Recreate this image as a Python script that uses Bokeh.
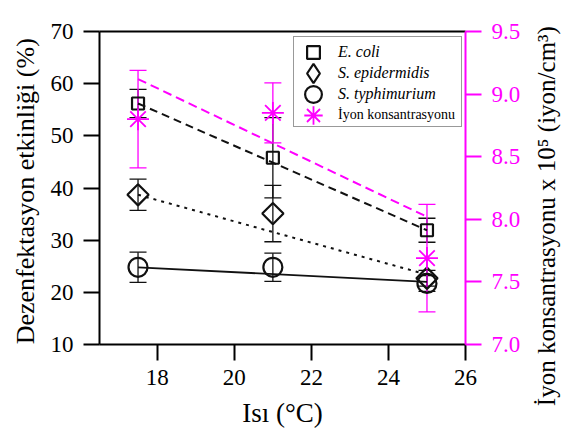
import numpy as np
from bokeh.plotting import figure
from bokeh.layouts import row
from bokeh.models import (Range1d, LinearAxis, FixedTicker, ColumnDataSource, Whisker,
                          TeeHead, Legend, LegendItem, PrintfTickFormatter, Title)
from bokeh.embed import file_html
from bokeh.resources import INLINE

# ---------------- data ----------------
temperature = [17.5, 21.0, 25.0]
e_coli = [56.2, 45.8, 31.9]
e_coli_err = [2.7, 7.7, 2.3]
s_epidermidis = [38.7, 35.1, 22.7]
s_epidermidis_err = [3.0, 5.4, 1.5]
s_typhimurium = [24.8, 24.8, 21.7]
s_typhimurium_err = [2.9, 2.7, 1.5]
ion_conc = [8.80, 8.85, 7.69]
ion_conc_err = [0.39, 0.24, 0.43]

trend_x = [17.5, 25.0]
e_coli_trend = [56.2, 31.9]
s_epidermidis_trend = [38.7, 23.4]
s_typhimurium_trend = [24.8, 22.0]
ion_trend = [9.12, 8.02]

x_ticks = [18, 20, 22, 24, 26]
y_ticks = [10, 20, 30, 40, 50, 60, 70]
ion_ticks = [7.0, 7.5, 8.0, 8.5, 9.0, 9.5]

series_names = ["E. coli", "S. epidermidis", "S. typhimurium", "İyon konsantrasyonu"]
x_label = "Isı (°C)"
y_label = "Dezenfektasyon etkinliği  (%)"
y2_label = "İyon konsantrasyonu x 10⁵ (iyon/cm³)"

# ---------------- styling ----------------
FONT = "Liberation Serif"
MAG = "#ff00ff"
BLK = "#111111"

p = figure(width=530, height=437, output_backend="svg", toolbar_location=None,
           x_range=Range1d(16.5, 26), y_range=Range1d(10, 70),
           min_border_left=99, min_border_right=65, min_border_top=31, min_border_bottom=93,
           background_fill_color="white", border_fill_color="white", outline_line_color=None)
p.grid.visible = False
p.extra_y_ranges = {"ion": Range1d(7.0, 9.5)}

def style_axis(ax, color="black"):
    ax.axis_line_color = color
    ax.axis_line_width = 2
    ax.major_tick_line_color = color
    ax.major_tick_line_width = 2
    ax.major_tick_out = 16
    ax.major_tick_in = 0
    ax.minor_tick_line_color = None
    ax.major_label_text_font = FONT
    ax.major_label_text_font_size = "23px"
    ax.major_label_text_color = color
    ax.axis_label_text_font = FONT
    ax.axis_label_text_font_style = "normal"
    ax.axis_label_text_color = "black"

xa = p.xaxis[0]
style_axis(xa)
xa.ticker = FixedTicker(ticks=x_ticks)
xa.axis_label = x_label
xa.axis_label_text_font_size = "27px"
xa.major_label_standoff = 9
xa.axis_label_standoff = 10

ya = p.yaxis[0]
style_axis(ya)
ya.ticker = FixedTicker(ticks=y_ticks)
ya.axis_label = y_label
ya.axis_label_text_font_size = "26px"
ya.major_label_standoff = 10
ya.axis_label_standoff = 8

ra = LinearAxis(y_range_name="ion", ticker=FixedTicker(ticks=ion_ticks),
                formatter=PrintfTickFormatter(format="%.1f"))
style_axis(ra, MAG)
ra.major_label_standoff = 10
p.add_layout(ra, "right")

ta = LinearAxis(ticker=FixedTicker(ticks=[]), axis_line_width=2, axis_line_color="black",
                major_tick_line_color=None, minor_tick_line_color=None,
                major_label_text_font_size="0px")
p.add_layout(ta, "above")

# ---------------- trend lines ----------------
p.line(trend_x, e_coli_trend, line_color=BLK, line_width=2, line_dash="8 5")
p.line(trend_x, s_epidermidis_trend, line_color=BLK, line_width=2, line_dash="3 5")
p.line(trend_x, s_typhimurium_trend, line_color=BLK, line_width=1.8)
p.line(trend_x, ion_trend, line_color=MAG, line_width=2, line_dash="9 5", y_range_name="ion")

# ---------------- error bars ----------------
def add_whisker(vals, errs, color, range_name="default"):
    v = np.array(vals, dtype=float)
    e = np.array(errs, dtype=float)
    src = ColumnDataSource(dict(x=temperature, upper=v + e, lower=v - e))
    w = Whisker(source=src, base="x", upper="upper", lower="lower", dimension="height",
                line_color=color, line_width=1.3, y_range_name=range_name,
                upper_head=TeeHead(size=17, line_color=color, line_width=1.3),
                lower_head=TeeHead(size=17, line_color=color, line_width=1.3))
    p.add_layout(w)

add_whisker(e_coli, e_coli_err, BLK)
add_whisker(s_epidermidis, s_epidermidis_err, BLK)
add_whisker(s_typhimurium, s_typhimurium_err, BLK)
add_whisker(ion_conc, ion_conc_err, MAG, "ion")

# ---------------- markers ----------------
r_e = p.scatter(temperature, e_coli, marker="square", size=12, line_color=BLK,
                line_width=2.2, fill_color=None)
r_s = p.scatter(temperature, s_epidermidis, marker="square", angle=np.pi / 4, size=15,
                line_color=BLK, line_width=2.2, fill_color=None)
r_t = p.scatter(temperature, s_typhimurium, marker="circle", size=19, line_color=BLK,
                line_width=2.2, fill_color=None)
r_i = p.scatter(temperature, ion_conc, marker="asterisk", size=22, line_color=MAG,
                line_width=1.8, y_range_name="ion")
# legend-only keys (no visible data)
r_dummy = p.scatter(x=[np.nan], y=[np.nan], marker="asterisk", line_alpha=0, fill_alpha=0)
r_diamond_key = p.scatter(x=[np.nan], y=[np.nan], marker="diamond", line_color=BLK,
                          line_width=2.2, fill_color=None)

# ---------------- legend ----------------
# frame-relative positions (px, from frame bottom-left) of legend box and rows
BOX_X, BOX_BOTTOM = 194, 217
ROW_X = 189

legend_box = Legend(items=[LegendItem(label=" ", renderers=[r_dummy])],
                    location=(BOX_X, BOX_BOTTOM), padding=0, margin=0,
                    glyph_height=89, glyph_width=1, label_height=89, label_standoff=0,
                    label_width=166, border_line_color="#333333", border_line_width=1.2,
                    background_fill_color="white", background_fill_alpha=1.0,
                    label_text_font_size="1px")
p.add_layout(legend_box)

def add_row(label, renderer, center, gh, italic=True, fsize="16px"):
    lg = Legend(items=[LegendItem(label=label, renderers=[renderer])],
                location=(ROW_X, center - gh // 2), padding=0, margin=0,
                glyph_height=gh, glyph_width=50, label_height=gh, label_standoff=0,
                label_width=110, border_line_color=None, background_fill_alpha=0.0,
                label_text_font=FONT, label_text_color="black",
                label_text_font_style="italic" if italic else "normal",
                label_text_font_size=fsize)
    p.add_layout(lg)

add_row(series_names[0], r_e, 292, 32)
add_row(series_names[1], r_diamond_key, 271, 48)
add_row(series_names[2], r_t, 250, 42)
add_row(series_names[3], r_i, 229, 46, italic=False, fsize="14px")

# ---------------- right-hand axis title (own narrow panel, reads bottom-to-top) ----------------
# trailing no-break spaces move the centred title down so it is not cut at the top
p2 = figure(width=35, height=437, output_backend="svg", toolbar_location=None,
            x_axis_type=None, y_axis_type=None, outline_line_color=None,
            min_border_left=0, min_border_right=0, min_border_top=0, min_border_bottom=9,
            background_fill_color="white", border_fill_color="white")
p2.grid.visible = False
p2.add_layout(Title(text=y2_label + "\u00a0" * 9, align="center", text_font=FONT,
                    text_font_size="25px", text_font_style="normal", text_color="black",
                    standoff=0), "left")

open("out.html", "w").write(file_html(row(p, p2), INLINE))
